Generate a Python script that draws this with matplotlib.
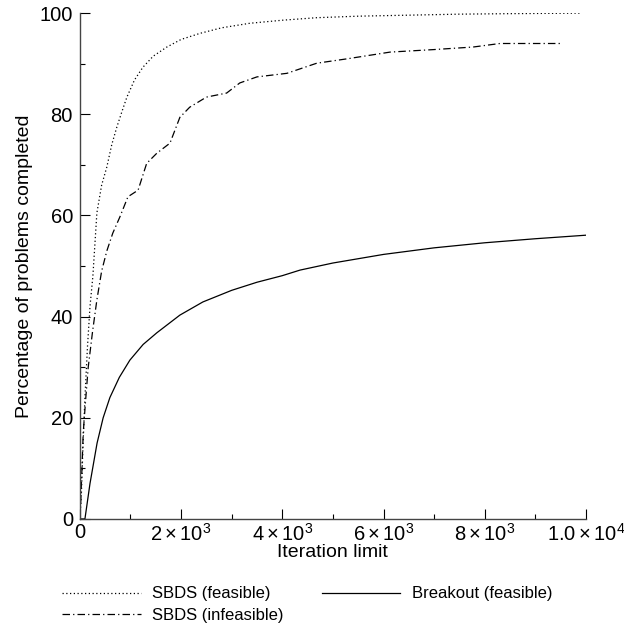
import matplotlib.pyplot as plt
from matplotlib.ticker import FixedLocator, FixedFormatter

plt.rcParams['font.family'] = ['Liberation Sans', 'DejaVu Sans']
plt.rcParams['mathtext.fontset'] = 'custom'
plt.rcParams['mathtext.rm'] = 'Liberation Sans'
plt.rcParams['mathtext.it'] = 'Liberation Sans'

# SBDS (feasible)
feas_x = [0, 30, 60, 100, 150, 200, 257, 336, 430, 533, 630, 731, 830, 929, 1080, 1245,
          1450, 1719, 2000, 2372, 2800, 3360, 4000, 4680, 5500, 6500, 7500, 8500, 9880]
feas_y = [0, 5, 14, 24, 34, 42, 48, 60.5, 66, 69.6, 74, 77.5, 80.5, 83.4, 86.8, 89.3,
          91.5, 93.3, 94.8, 96, 97.1, 98, 98.6, 99.1, 99.4, 99.6, 99.8, 99.9, 100]

# SBDS (infeasible)
infeas_x = [0, 20, 66, 110, 165, 250, 336, 430, 533, 650, 790, 950, 1150, 1320, 1520,
            1780, 1976, 2170, 2500, 2900, 3160, 3500, 4090, 4680, 5300, 6130, 7000,
            7770, 8300, 9000, 9520]
infeas_y = [0, 4, 17, 23, 30, 37, 43.3, 49, 53, 56.5, 59.7, 63.7, 65, 70.3, 72.3,
            74.3, 79.4, 81.4, 83.4, 84.2, 86.2, 87.4, 88.1, 90.1, 91, 92.3, 92.8,
            93.3, 94, 94, 94]

# Breakout (feasible)
brk_x = [0, 100, 200, 340, 460, 593, 780, 988, 1250, 1520, 1976, 2430, 3000, 3500,
         4000, 4350, 5000, 6000, 7000, 8000, 9000, 10000]
brk_y = [0, 0, 7, 15, 20, 24, 28, 31.4, 34.5, 36.8, 40.3, 42.9, 45.2, 46.8,
         48.1, 49.2, 50.6, 52.3, 53.6, 54.6, 55.4, 56.1]

x_ticks = [0, 2000, 4000, 6000, 8000, 10000]
x_labels = ['0', r'$2\times10^3$', r'$4\times10^3$', r'$6\times10^3$',
            r'$8\times10^3$', r'$1.0\times10^4$']
y_ticks = [0, 20, 40, 60, 80, 100]

fig = plt.figure(figsize=(6.24, 6.26), dpi=100)
ax = fig.add_axes([0.128, 0.171, 0.811, 0.808])

ax.plot(feas_x, feas_y, color='black', lw=0.9, linestyle=(0, (1, 2)),
        label='SBDS (feasible)')
ax.plot(infeas_x, infeas_y, color='black', lw=0.9, linestyle=(0, (6, 2.5, 1, 2.5)),
        label='SBDS (infeasible)')
ax.plot(brk_x, brk_y, color='black', lw=0.9, label='Breakout (feasible)')

ax.set_xlim(0, 10000)
ax.set_ylim(0, 100)
ax.xaxis.set_major_locator(FixedLocator(x_ticks))
ax.xaxis.set_major_formatter(FixedFormatter(x_labels))
ax.xaxis.set_minor_locator(FixedLocator([1000, 3000, 5000, 7000, 9000]))
ax.yaxis.set_major_locator(FixedLocator(y_ticks))
ax.yaxis.set_minor_locator(FixedLocator([10, 30, 50, 70, 90]))

ax.spines['top'].set_visible(False)
ax.spines['right'].set_visible(False)
for s in ['left', 'bottom']:
    ax.spines[s].set_color('#444444')
    ax.spines[s].set_linewidth(1.0)
ax.tick_params(which='major', direction='in', length=7, width=0.8, labelsize=14.5, pad=5)
ax.tick_params(axis='x', which='major', pad=3)
ax.tick_params(which='minor', direction='in', length=3.5, width=0.8)

ax.set_xlabel('Iteration limit', fontsize=14, labelpad=-1)
ax.set_ylabel('Percentage of problems completed', fontsize=14, labelpad=5)

h, l = ax.get_legend_handles_labels()
fig.legend(h, l, loc='upper left', bbox_to_anchor=(0.089, 0.074), ncol=2,
           frameon=False, fontsize=12, handlelength=4.7, handletextpad=0.7,
           columnspacing=2.3, labelspacing=0.4, borderaxespad=0)

fig.savefig('out.png', dpi=100)
